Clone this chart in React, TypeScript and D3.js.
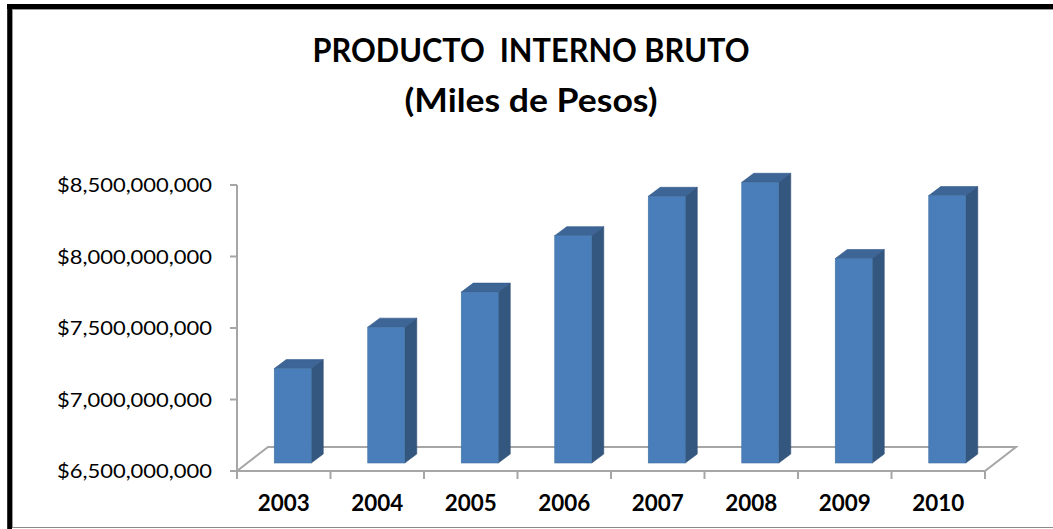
import React from "react";
import * as d3 from "d3";

const years = ["2003", "2004", "2005", "2006", "2007", "2008", "2009", "2010"];
const pib = [7.16e9, 7.45e9, 7.695e9, 8.09e9, 8.365e9, 8.463e9, 7.93e9, 8.37e9];
const yTicks = [6.5e9, 7.0e9, 7.5e9, 8.0e9, 8.5e9];
const titleLines = ["PRODUCTO  INTERNO BRUTO", "(Miles de Pesos)"];

const W = 1053;
const H = 529;
const axisX = 237;
const axisRight = 985;
const floorDX = 31;
const floorDY = -24;
const barOffX = 9;
const barOffY = -8;
const barDX = 12;
const barDY = -9;

export default function App() {
  const y = d3.scaleLinear().domain([6.5e9, 8.5e9]).range([471, 185]);
  const x = d3.scaleBand().domain(years).range([axisX, axisRight]).paddingInner(0).paddingOuter(0);
  const bw = x.bandwidth();
  const barW = 37;
  const fmt = (v: number) => "$" + d3.format(",")(v);
  const y0 = y(6.5e9);
  const axisColor = "#a6a6a6";

  return (
    <div style={{ position: "fixed", left: 0, top: 0, width: W, height: H, background: "#fff" }}>
      <svg width={W} height={H} style={{ display: "block" }}>
        <rect x={0} y={0} width={W} height={H} fill="#fff" />
        {/* frame */}
        <line x1={9.6} y1={4} x2={9.6} y2={H} stroke="#000" strokeWidth={4.8} />
        <line x1={7} y1={6.5} x2={W} y2={6.5} stroke="#000" strokeWidth={5} />
        <line x1={12.5} y1={9.5} x2={12.5} y2={527} stroke="#9a9a9a" strokeWidth={1} />
        <line x1={12} y1={9.5} x2={W} y2={9.5} stroke="#9a9a9a" strokeWidth={1} />
        <line x1={12} y1={527.5} x2={W} y2={527.5} stroke="#8a8a8a" strokeWidth={1} />

        {/* title */}
        <g
          fontFamily="Lato, 'Open Sans', sans-serif"
          fontWeight="bold"
          fill="#000"
          textAnchor="middle"
          style={{ whiteSpace: "pre" }}
        >
          <text x={531} y={62} fontSize={33} textLength={437} lengthAdjust="spacingAndGlyphs" xmlSpace="preserve">
            {titleLines[0]}
          </text>
          <text x={531} y={112} fontSize={33} textLength={253} lengthAdjust="spacingAndGlyphs">
            {titleLines[1]}
          </text>
        </g>

        {/* floor */}
        <polygon
          points={[
            [axisX, y0],
            [axisRight, y0],
            [axisRight + floorDX, y0 + floorDY],
            [axisX + floorDX, y0 + floorDY],
          ]
            .map((p) => p.join(","))
            .join(" ")}
          fill="#fff"
          stroke={axisColor}
          strokeWidth={2}
        />

        {/* y axis */}
        <line x1={axisX} y1={y(8.5e9)} x2={axisX} y2={y0} stroke={axisColor} strokeWidth={2} />
        {yTicks.map((t) => (
          <g key={t}>
            <line x1={axisX - 7} y1={y(t)} x2={axisX} y2={y(t)} stroke={axisColor} strokeWidth={2} />
            <text
              x={212}
              y={y(t)}
              dy="0.36em"
              textAnchor="end"
              fontFamily="Lato, 'Open Sans', sans-serif"
              fontSize={19.5}
              fill="#000"
              textLength={155}
              lengthAdjust="spacingAndGlyphs"
            >
              {fmt(t)}
            </text>
          </g>
        ))}

        {/* x axis ticks */}
        {years.concat(["end"]).map((yr, i) => {
          const xx = axisX + i * bw;
          return <line key={yr} x1={xx} y1={y0} x2={xx} y2={y0 + 8} stroke={axisColor} strokeWidth={2} />;
        })}

        {/* bars */}
        {years.map((yr, i) => {
          const cx = (x(yr) as number) + bw / 2 + barOffX;
          const xl = cx - barW / 2;
          const xr = cx + barW / 2;
          const yb = y0 + barOffY;
          const yt = y(pib[i]) + barOffY;
          const side = [
            [xr, yt],
            [xr + barDX, yt + barDY],
            [xr + barDX, yb + barDY],
            [xr, yb],
          ];
          const top = [
            [xl, yt],
            [xl + barDX, yt + barDY],
            [xr + barDX, yt + barDY],
            [xr, yt],
          ];
          return (
            <g key={yr}>
              <polygon points={side.map((p) => p.join(",")).join(" ")} fill="#34577f" stroke="#2f4f75" strokeWidth={0.6} />
              <polygon points={top.map((p) => p.join(",")).join(" ")} fill="#3d6596" stroke="#33588a" strokeWidth={0.6} />
              <rect x={xl} y={yt} width={barW} height={yb - yt} fill="#4a7ebb" stroke="#41719f" strokeWidth={0.6} />
            </g>
          );
        })}

        {/* x labels */}
        {years.map((yr) => (
          <text
            key={yr}
            x={(x(yr) as number) + bw / 2}
            y={511}
            textAnchor="middle"
            fontFamily="Lato, 'Open Sans', sans-serif"
            fontWeight="bold"
            fontSize={22}
            fill="#000"
            textLength={52}
            lengthAdjust="spacingAndGlyphs"
          >
            {yr}
          </text>
        ))}
      </svg>
    </div>
  );
}
